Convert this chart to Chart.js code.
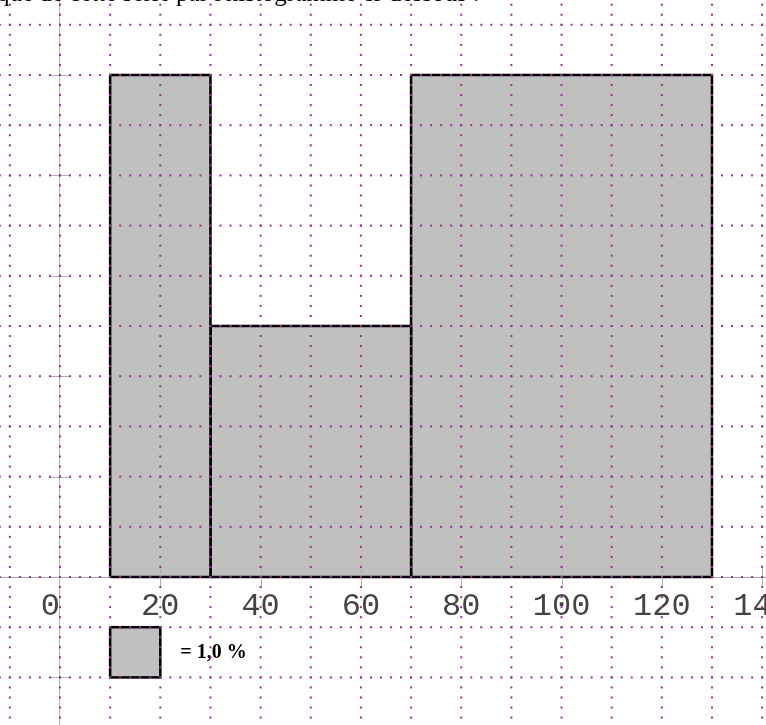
<!DOCTYPE html>
<html><head><meta charset="utf-8">
<script src="https://cdn.jsdelivr.net/npm/chart.js@4/dist/chart.umd.min.js"></script>
<style>html,body{margin:0;padding:0;background:#fff;overflow:hidden}canvas{display:block}</style>
</head><body>
<canvas id="c" width="766" height="725"></canvas>
<script>
// ---- data ----
const classEdges = [10, 30, 70, 130];      // class boundaries
const frequencies = [20, 20, 60];          // percentage of each class
const cellWidth = 10;                      // x-width of one legend cell (= 1,0 %)
const xTickValues = [0, 20, 40, 60, 80, 100, 120, 140];
const xTickLabels = ['0 ', '20', '40', '60', '80', '100', '120', '140'];
const yTickValues = [-2, 0, 2, 4, 6, 8, 10];
const legendText = '= 1,0 %';
const headerText = "que de cette série par l'histogramme ci-dessous :";

// ---- view ----
const X_MIN = -11.963, X_MAX = 140.77;
const Y_MIN = -2.948, Y_MAX = 11.494;
const DOT = '#9b2f9b';
const AXIS_GRAY = '#b0b0b0';

const heights = frequencies.map((f, i) => f / ((classEdges[i + 1] - classEdges[i]) / cellWidth));
const datasets = frequencies.map((f, i) => ({
  data: [
    {x: classEdges[i], y: 0}, {x: classEdges[i], y: heights[i]},
    {x: classEdges[i + 1], y: heights[i]}, {x: classEdges[i + 1], y: 0},
    {x: classEdges[i], y: 0}
  ],
  borderColor: '#000', borderWidth: 2.5, backgroundColor: '#c0c0c0',
  fill: 'shape', pointRadius: 0, tension: 0, borderJoinStyle: 'miter'
}));

const deco = {
  id: 'deco',
  afterDatasetsDraw(chart) {
    const ctx = chart.ctx, xs = chart.scales.x, ys = chart.scales.y;
    const X = v => xs.getPixelForValue(v), Y = v => ys.getPixelForValue(v);
    ctx.save();
    // tick marks
    ctx.strokeStyle = AXIS_GRAY; ctx.lineWidth = 1;
    xTickValues.forEach(v => { if (v === 0) return; const px = Math.round(X(v)) + 0.5;
      ctx.beginPath(); ctx.moveTo(px, Y(0) - 12); ctx.lineTo(px, Y(0) + 10); ctx.stroke(); });
    yTickValues.forEach(v => { if (v === 0) return; const py = Math.round(Y(v)) + 0.5;
      ctx.beginPath(); ctx.moveTo(X(0) - 10, py); ctx.lineTo(X(0) + 10, py); ctx.stroke(); });
    // legend box
    const lx0 = X(classEdges[0]), lx1 = X(classEdges[0] + cellWidth), ly0 = Y(-1), ly1 = Y(-2);
    ctx.fillStyle = '#c0c0c0'; ctx.fillRect(lx0, ly0, lx1 - lx0, ly1 - ly0);
    ctx.strokeStyle = '#000'; ctx.lineWidth = 2.5; ctx.strokeRect(lx0, ly0, lx1 - lx0, ly1 - ly0);
    ctx.fillStyle = '#000'; ctx.font = 'bold 20px "Liberation Serif"';
    ctx.textBaseline = 'middle'; ctx.textAlign = 'left';
    ctx.fillText(legendText, lx1 + 20, (ly0 + ly1) / 2 + 1);
    // header text (cut by the top edge)
    ctx.font = '25px "Liberation Serif"'; ctx.textBaseline = 'alphabetic';
    ctx.fillText(headerText, -3, 1);
    // dotted grid
    ctx.fillStyle = DOT;
    for (let gy = Math.ceil(Y_MIN); gy <= Math.floor(Y_MAX); gy++) {
      const py = Y(gy);
      for (let gx = -12; gx <= 142; gx += 2) ctx.fillRect(X(gx) - 1, py - 1, 2, 2);
    }
    for (let gx = -10; gx <= 140; gx += 10) {
      const px = X(gx);
      for (let k = Math.ceil(Y_MIN * 5); k <= Math.floor(Y_MAX * 5); k++) ctx.fillRect(px - 1, Y(k / 5) - 1, 2, 2);
    }
    ctx.restore();
  }
};

new Chart(document.getElementById('c'), {
  type: 'line',
  data: {datasets},
  options: {
    responsive: false, animation: false, devicePixelRatio: 1,
    layout: {padding: 0},
    plugins: {legend: {display: false}, title: {display: false}, tooltip: {enabled: false}},
    scales: {
      x: {
        type: 'linear', min: X_MIN, max: X_MAX, position: {y: 0},
        grid: {display: false, drawTicks: false},
        border: {display: true, color: AXIS_GRAY, width: 1},
        ticks: {
          autoSkip: false, maxRotation: 0, minRotation: 0, padding: 10, color: '#444',
          font: {family: 'Liberation Mono', size: 32},
          callback: v => { const i = xTickValues.indexOf(v); return i >= 0 ? xTickLabels[i] : ''; }
        },
        afterBuildTicks: s => { s.ticks = xTickValues.map(v => ({value: v})); },
        afterFit: s => { s.paddingLeft = 0; s.paddingRight = 0; }
      },
      y: {
        type: 'linear', min: Y_MIN, max: Y_MAX, position: {x: 0},
        grid: {display: false, drawTicks: false},
        border: {display: true, color: AXIS_GRAY, width: 1},
        ticks: {display: false},
        afterFit: s => { s.paddingTop = 0; s.paddingBottom = 0; }
      }
    }
  },
  plugins: [deco]
});
</script>
</body></html>
